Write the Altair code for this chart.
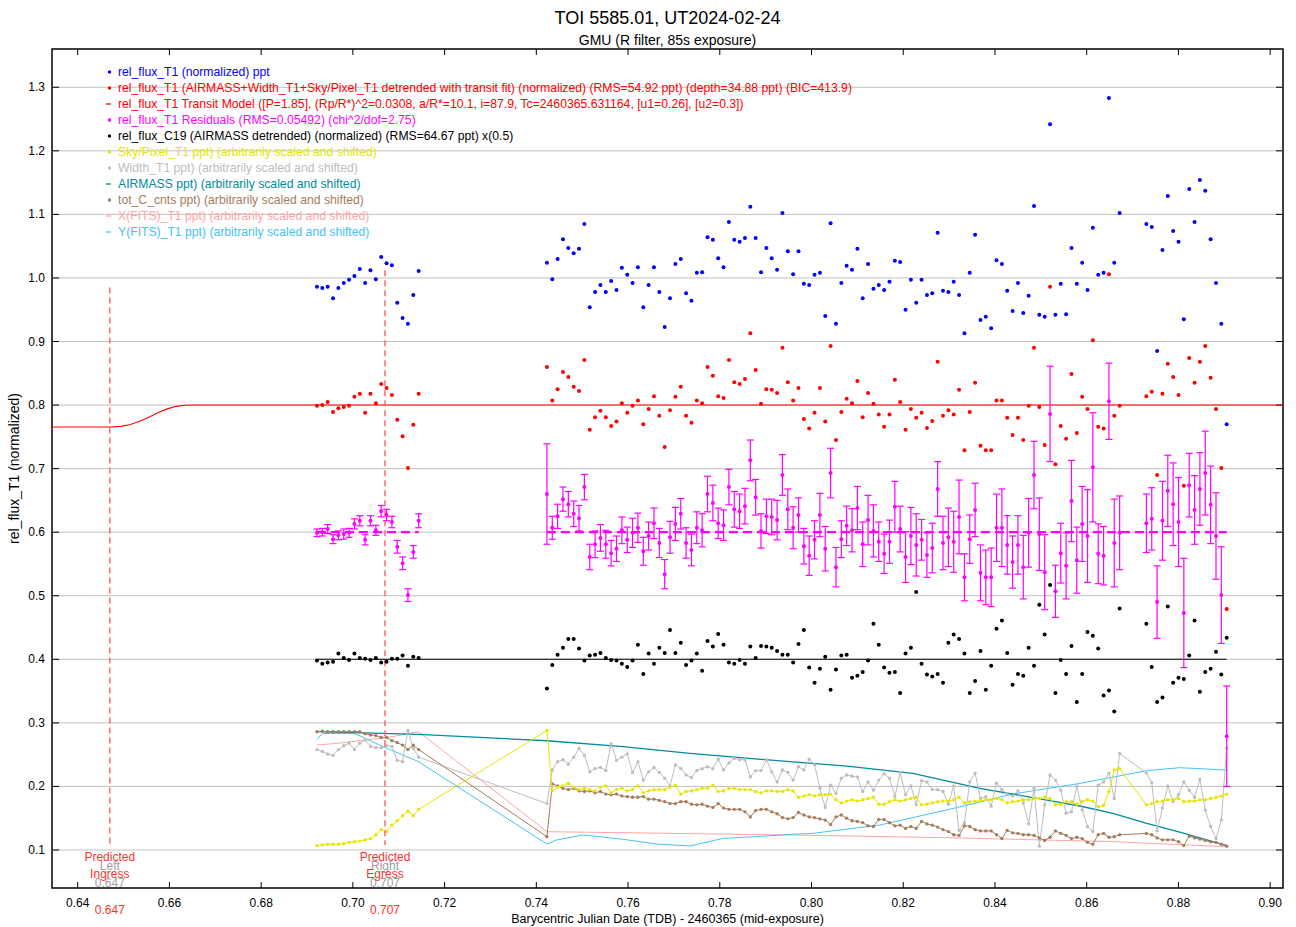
import altair as alt
import pandas as pd

# ---------------------------------------------------------------------------
# Observation times, BJD_TDB - 2460365 (short first block, then main block)
# ---------------------------------------------------------------------------
T1 = [0.69217, 0.69334, 0.69450, 0.69567, 0.69684, 0.69801, 0.69917, 0.70034, 0.70151, 0.70267,
      0.70384, 0.70501, 0.70617, 0.70734, 0.70851, 0.70968, 0.71084, 0.71201, 0.71318, 0.71434]
T2 = [0.74231, 0.74348, 0.74464, 0.74581, 0.74698, 0.74815, 0.74931, 0.75048, 0.75165, 0.75281,
      0.75398, 0.75515, 0.75631, 0.75748, 0.75865, 0.75982, 0.76098, 0.76215, 0.76332, 0.76448,
      0.76565, 0.76682, 0.76798, 0.76915, 0.77032, 0.77149, 0.77265, 0.77382, 0.77499, 0.77615,
      0.77732, 0.77849, 0.77965, 0.78082, 0.78199, 0.78316, 0.78432, 0.78549, 0.78666, 0.78782,
      0.78899, 0.79016, 0.79132, 0.79249, 0.79366, 0.79483, 0.79599, 0.79716, 0.79833, 0.79949,
      0.80066, 0.80183, 0.80299, 0.80416, 0.80533, 0.80650, 0.80766, 0.80883, 0.81000, 0.81116,
      0.81233, 0.81350, 0.81466, 0.81583, 0.81700, 0.81817, 0.81933, 0.82050, 0.82167, 0.82283,
      0.82400, 0.82517, 0.82633, 0.82750, 0.82867, 0.82984, 0.83100, 0.83217, 0.83334, 0.83450,
      0.83567, 0.83684, 0.83800, 0.83917, 0.84034, 0.84151, 0.84267, 0.84384, 0.84501, 0.84617,
      0.84734, 0.84851, 0.84967, 0.85084, 0.85201, 0.85318, 0.85434, 0.85551, 0.85668, 0.85784,
      0.85901, 0.86018, 0.86134, 0.86251, 0.86368, 0.86485, 0.86601, 0.86718,
      0.87301, 0.87418, 0.87535, 0.87652, 0.87768, 0.87885, 0.88002, 0.88118, 0.88235, 0.88352,
      0.88468, 0.88585, 0.88702, 0.88819, 0.88935, 0.89052]

# rel_flux_T1 (normalized), plotted around 1.0
RAW_1 = [0.986, 0.984, 0.986, 0.968, 0.984, 0.992, 0.997, 1.003, 1.014, 0.992,
         1.012, 0.998, 1.033, 1.023, 1.020, 0.961, 0.937, 0.928, 0.973, 1.011]
RAW_2 = [1.024, 0.998, 1.030, 1.061, 1.047, 1.039, 1.046, 1.085, 0.954, 0.978,
         0.989, 0.978, 0.995, 0.981, 1.016, 1.005, 0.992, 1.017, 0.954, 0.989,
         1.017, 0.978, 0.923, 0.968, 1.022, 1.030, 0.976, 0.964, 1.008, 1.009,
         1.064, 1.060, 1.031, 1.017, 1.088, 1.060, 1.057, 1.063, 1.112, 1.063,
         1.009, 1.047, 1.031, 1.013, 1.102, 1.042, 1.006, 1.042, 0.991, 0.989,
         1.005, 1.008, 0.940, 1.086, 0.928, 0.992, 1.019, 1.013, 1.046, 0.968,
         1.022, 0.983, 0.989, 0.981, 0.994, 1.027, 1.025, 0.950, 0.997, 0.961,
         0.997, 0.973, 0.976, 1.071, 0.980, 0.978, 0.994, 0.973, 0.913, 1.008,
         1.068, 0.934, 0.939, 0.921, 1.028, 1.022, 0.980, 0.948, 0.992, 0.945,
         0.972, 1.113, 0.942, 0.939, 1.242, 0.942, 0.991, 0.943, 1.047, 0.991,
         1.024, 0.981, 1.079, 1.005, 1.008, 1.283, 1.024, 1.102,
         1.085, 1.080, 0.885, 1.044, 1.129, 1.074, 1.057, 0.935, 1.140, 1.088,
         1.154, 1.137, 1.061, 0.992, 0.928, 0.770]

# rel_flux_T1 detrended (normalized), plotted around 0.8
DET_1 = [0.799, 0.800, 0.805, 0.789, 0.795, 0.797, 0.799, 0.813, 0.818, 0.788,
         0.818, 0.803, 0.833, 0.827, 0.816, 0.777, 0.751, 0.701, 0.769, 0.818]
DET_2 = [0.860, 0.807, 0.825, 0.852, 0.844, 0.829, 0.822, 0.871, 0.761, 0.781,
         0.791, 0.781, 0.767, 0.774, 0.803, 0.788, 0.799, 0.807, 0.770, 0.794,
         0.814, 0.783, 0.734, 0.792, 0.813, 0.829, 0.783, 0.772, 0.807, 0.803,
         0.860, 0.846, 0.814, 0.811, 0.871, 0.836, 0.833, 0.841, 0.913, 0.855,
         0.802, 0.825, 0.824, 0.819, 0.890, 0.836, 0.807, 0.827, 0.778, 0.763,
         0.788, 0.827, 0.774, 0.893, 0.745, 0.789, 0.810, 0.803, 0.838, 0.781,
         0.819, 0.802, 0.785, 0.766, 0.785, 0.840, 0.805, 0.761, 0.794, 0.780,
         0.788, 0.764, 0.775, 0.868, 0.783, 0.792, 0.785, 0.824, 0.729, 0.789,
         0.835, 0.736, 0.729, 0.729, 0.807, 0.807, 0.780, 0.753, 0.780, 0.745,
         0.799, 0.890, 0.797, 0.737, 0.986, 0.707, 0.767, 0.747, 0.849, 0.756,
         0.813, 0.794, 0.902, 0.766, 0.763, 1.006, 0.783, 0.799,
         0.814, 0.821, 0.690, 0.818, 0.865, 0.844, 0.816, 0.673, 0.874, 0.835,
         0.868, 0.893, 0.843, 0.794, 0.701, 0.479]

# uncertainty of each detrended point (drawn on the residuals)
ERR_1 = [0.006, 0.006, 0.007, 0.007, 0.007, 0.008, 0.007, 0.008, 0.008, 0.008,
         0.008, 0.008, 0.009, 0.009, 0.009, 0.010, 0.010, 0.010, 0.010, 0.011]
ERR_2 = [0.079, 0.018, 0.019, 0.019, 0.020, 0.020, 0.020, 0.020, 0.020, 0.021,
         0.021, 0.022, 0.020, 0.020, 0.021, 0.020, 0.023, 0.023, 0.022, 0.022,
         0.024, 0.023, 0.023, 0.025, 0.026, 0.024, 0.024, 0.025, 0.025, 0.026,
         0.028, 0.028, 0.024, 0.024, 0.028, 0.028, 0.027, 0.028, 0.032, 0.028,
         0.027, 0.027, 0.028, 0.031, 0.032, 0.032, 0.033, 0.027, 0.028, 0.031,
         0.030, 0.034, 0.035, 0.039, 0.031, 0.029, 0.031, 0.034, 0.034, 0.035,
         0.039, 0.041, 0.031, 0.031, 0.034, 0.040, 0.036, 0.040, 0.045, 0.049,
         0.032, 0.035, 0.039, 0.043, 0.042, 0.046, 0.048, 0.058, 0.037, 0.038,
         0.042, 0.044, 0.043, 0.046, 0.053, 0.061, 0.046, 0.041, 0.046, 0.050,
         0.054, 0.053, 0.057, 0.059, 0.075, 0.041, 0.047, 0.052, 0.064, 0.052,
         0.059, 0.073, 0.086, 0.047, 0.046, 0.060, 0.069, 0.058,
         0.046, 0.049, 0.057, 0.062, 0.056, 0.065, 0.070, 0.086, 0.050, 0.054,
         0.057, 0.066, 0.061, 0.068, 0.076, 0.079]

# rel_flux_C19 (AIRMASS detrended), plotted around 0.4
COMP_1 = [0.398, 0.393, 0.395, 0.396, 0.409, 0.402, 0.399, 0.409, 0.402, 0.401,
          0.399, 0.402, 0.395, 0.396, 0.401, 0.401, 0.406, 0.390, 0.404, 0.402]
COMP_2 = [0.354, 0.391, 0.407, 0.418, 0.432, 0.432, 0.417, 0.398, 0.406, 0.407,
          0.410, 0.402, 0.399, 0.398, 0.393, 0.388, 0.398, 0.423, 0.377, 0.409,
          0.393, 0.418, 0.410, 0.446, 0.410, 0.426, 0.391, 0.398, 0.409, 0.382,
          0.429, 0.420, 0.440, 0.423, 0.395, 0.393, 0.399, 0.393, 0.420, 0.402,
          0.421, 0.420, 0.418, 0.413, 0.407, 0.407, 0.395, 0.424, 0.446, 0.387,
          0.363, 0.385, 0.404, 0.352, 0.384, 0.406, 0.407, 0.371, 0.374, 0.380,
          0.398, 0.456, 0.423, 0.387, 0.379, 0.380, 0.347, 0.409, 0.418, 0.506,
          0.393, 0.376, 0.373, 0.377, 0.363, 0.426, 0.439, 0.432, 0.409, 0.347,
          0.366, 0.413, 0.352, 0.390, 0.448, 0.461, 0.410, 0.360, 0.377, 0.374,
          0.418, 0.390, 0.486, 0.439, 0.517, 0.347, 0.399, 0.377, 0.421, 0.333,
          0.377, 0.443, 0.437, 0.417, 0.343, 0.351, 0.318, 0.480,
          0.456, 0.388, 0.333, 0.340, 0.483, 0.363, 0.371, 0.369, 0.406, 0.461,
          0.349, 0.380, 0.385, 0.412, 0.376, 0.434]

# Sky/Pixel_T1 (arbitrarily scaled and shifted)
SKY_1 = [0.107, 0.108, 0.109, 0.109, 0.109, 0.110, 0.112, 0.113, 0.114, 0.116,
         0.118, 0.124, 0.132, 0.129, 0.139, 0.146, 0.154, 0.161, 0.154, 0.164]
SKY_2 = [0.288, 0.193, 0.199, 0.201, 0.205, 0.199, 0.195, 0.197, 0.195, 0.193,
         0.199, 0.201, 0.190, 0.195, 0.197, 0.193, 0.195, 0.201, 0.190, 0.193,
         0.195, 0.195, 0.195, 0.199, 0.202, 0.188, 0.192, 0.193, 0.195, 0.197,
         0.197, 0.202, 0.192, 0.193, 0.197, 0.197, 0.195, 0.195, 0.195, 0.192,
         0.190, 0.193, 0.193, 0.192, 0.192, 0.195, 0.193, 0.183, 0.185, 0.187,
         0.185, 0.187, 0.187, 0.188, 0.179, 0.174, 0.177, 0.179, 0.177, 0.179,
         0.181, 0.183, 0.172, 0.172, 0.176, 0.179, 0.177, 0.179, 0.181, 0.183,
         0.171, 0.172, 0.174, 0.176, 0.177, 0.177, 0.179, 0.183, 0.174, 0.176,
         0.177, 0.177, 0.179, 0.179, 0.181, 0.179, 0.174, 0.176, 0.177, 0.179,
         0.179, 0.181, 0.181, 0.183, 0.181, 0.171, 0.172, 0.176, 0.176, 0.172,
         0.176, 0.179, 0.177, 0.168, 0.170, 0.192, 0.226, 0.228,
         0.171, 0.173, 0.176, 0.177, 0.179, 0.179, 0.181, 0.176, 0.177, 0.177,
         0.179, 0.179, 0.181, 0.183, 0.185, 0.188]

# Width_T1 (arbitrarily scaled and shifted)
WID_1 = [0.258, 0.255, 0.251, 0.249, 0.258, 0.264, 0.268, 0.258, 0.268, 0.273,
         0.263, 0.261, 0.261, 0.264, 0.263, 0.241, 0.239, 0.288, 0.260, 0.246]
WID_2 = [0.173, 0.226, 0.239, 0.242, 0.235, 0.246, 0.260, 0.249, 0.223, 0.228,
         0.230, 0.225, 0.267, 0.241, 0.246, 0.251, 0.222, 0.239, 0.210, 0.223,
         0.230, 0.222, 0.213, 0.201, 0.234, 0.228, 0.218, 0.214, 0.225, 0.228,
         0.231, 0.228, 0.243, 0.226, 0.237, 0.244, 0.242, 0.242, 0.215, 0.225,
         0.225, 0.242, 0.223, 0.207, 0.226, 0.222, 0.210, 0.231, 0.226, 0.243,
         0.234, 0.197, 0.167, 0.202, 0.189, 0.213, 0.218, 0.216, 0.215, 0.192,
         0.207, 0.194, 0.210, 0.220, 0.213, 0.184, 0.222, 0.187, 0.201, 0.171,
         0.209, 0.207, 0.195, 0.195, 0.192, 0.172, 0.201, 0.131, 0.143, 0.207,
         0.221, 0.181, 0.184, 0.169, 0.205, 0.195, 0.188, 0.185, 0.193, 0.174,
         0.141, 0.197, 0.106, 0.171, 0.218, 0.210, 0.194, 0.158, 0.160, 0.201,
         0.163, 0.137, 0.129, 0.202, 0.207, 0.221, 0.181, 0.252,
         0.221, 0.206, 0.130, 0.166, 0.201, 0.176, 0.187, 0.207, 0.194, 0.183,
         0.211, 0.163, 0.137, 0.118, 0.147, 0.260]

# tot_C_cnts (arbitrarily scaled and shifted)
CNT_1 = [0.286, 0.287, 0.286, 0.286, 0.286, 0.286, 0.286, 0.286, 0.286, 0.283,
         0.281, 0.280, 0.277, 0.277, 0.272, 0.269, 0.265, 0.258, 0.265, 0.258]
CNT_2 = [0.121, 0.204, 0.201, 0.197, 0.195, 0.197, 0.193, 0.192, 0.193, 0.190,
         0.192, 0.188, 0.187, 0.188, 0.185, 0.184, 0.183, 0.183, 0.184, 0.180,
         0.180, 0.178, 0.176, 0.173, 0.173, 0.176, 0.176, 0.172, 0.171, 0.172,
         0.169, 0.167, 0.173, 0.166, 0.164, 0.164, 0.164, 0.160, 0.152, 0.162,
         0.164, 0.164, 0.160, 0.157, 0.151, 0.149, 0.151, 0.159, 0.155, 0.152,
         0.151, 0.149, 0.147, 0.140, 0.152, 0.155, 0.150, 0.146, 0.145, 0.143,
         0.138, 0.137, 0.148, 0.148, 0.143, 0.138, 0.139, 0.134, 0.137, 0.134,
         0.145, 0.141, 0.139, 0.136, 0.132, 0.129, 0.124, 0.123, 0.138, 0.137,
         0.132, 0.130, 0.130, 0.130, 0.124, 0.118, 0.131, 0.127, 0.126, 0.124,
         0.124, 0.123, 0.119, 0.115, 0.120, 0.130, 0.126, 0.123, 0.118, 0.120,
         0.118, 0.112, 0.109, 0.124, 0.126, 0.120, 0.121, 0.124,
         0.126, 0.124, 0.119, 0.116, 0.116, 0.116, 0.113, 0.107, 0.122, 0.119,
         0.117, 0.115, 0.113, 0.112, 0.109, 0.106]

# AIRMASS (arbitrarily scaled and shifted), drawn as a plain line
AIRMASS_T = [0.69217, 0.71434, 0.74231, 0.75888, 0.77349, 0.79529, 0.80771, 0.82210,
             0.83671, 0.85131, 0.85851, 0.86570, 0.87311, 0.88031, 0.89052]
AIRMASS_V = [0.2861, 0.2819, 0.2719, 0.2625, 0.2520, 0.2389, 0.2321, 0.2205,
             0.1970, 0.1786, 0.1692, 0.1577, 0.1420, 0.1280, 0.1068]

# X(FITS)_T1 (arbitrarily scaled and shifted)
XFITS_T = [0.69217, 0.69684, 0.70267, 0.70851, 0.71434, 0.74231, 0.79529, 0.82944,
           0.86570, 0.89052]
XFITS_V = [0.2651, 0.2680, 0.2730, 0.2782, 0.2861, 0.1288, 0.1236, 0.1194,
           0.1131, 0.1052]

# Y(FITS)_T1 (arbitrarily scaled and shifted)
YFITS_T = [0.69217, 0.69334, 0.70034, 0.70662, 0.71434, 0.74231, 0.74437, 0.75023,
           0.75894, 0.76623, 0.77349, 0.78075, 0.78803, 0.79529, 0.80032, 0.81492,
           0.82944, 0.84390, 0.85851, 0.87311, 0.88030, 0.89052]
YFITS_V = [0.2740, 0.2834, 0.2834, 0.2625, 0.2389, 0.1094, 0.1157, 0.1236,
           0.1168, 0.1094, 0.1063, 0.1183, 0.1210, 0.1246, 0.1262, 0.1393,
           0.1629, 0.1881, 0.2048, 0.2247, 0.2295, 0.2258]

# Transit model, shifted to the detrended level
MODEL_T = [0.6344, 0.6470, 0.6495, 0.6515, 0.6535, 0.6555, 0.6575, 0.6595, 0.6615,
           0.6635, 0.6655, 0.9028]
MODEL_V = [0.7655, 0.7655, 0.7665, 0.7695, 0.7745, 0.7810, 0.7880, 0.7940, 0.7980,
           0.7998, 0.8000, 0.8000]

DETR_LEVEL = 0.8     # out-of-transit model level of the detrended curve
RESID_LEVEL = 0.6    # residuals are shown around this level
COMP_LEVEL = 0.4     # comparison-star baseline

INGRESS = 0.647
EGRESS = 0.707
INGRESS_TOP = 0.985
EGRESS_TOP = 1.012
MARKER_BOTTOM = 0.108

X_TICKS = [0.64, 0.66, 0.68, 0.70, 0.72, 0.74, 0.76, 0.78, 0.80, 0.82, 0.84, 0.86, 0.88, 0.90]
Y_TICKS = [0.1, 0.2, 0.3, 0.4, 0.5, 0.6, 0.7, 0.8, 0.9, 1.0, 1.1, 1.2, 1.3]
X_TITLE = "Barycentric Julian Date (TDB) - 2460365 (mid-exposure)"
Y_TITLE = "rel_flux_T1 (normalized)"

LEGEND_TEXT = [
    "rel_flux_T1 (normalized) ppt",
    "rel_flux_T1 (AIRMASS+Width_T1+Sky/Pixel_T1 detrended with transit fit) (normalized) "
    "(RMS=54.92 ppt) (depth=34.88 ppt) (BIC=413.9)",
    "rel_flux_T1 Transit Model ([P=1.85], (Rp/R*)^2=0.0308, a/R*=10.1, i=87.9, "
    "Tc=2460365.631164, [u1=0.26], [u2=0.3])",
    "rel_flux_T1 Residuals (RMS=0.05492) (chi^2/dof=2.75)",
    "rel_flux_C19 (AIRMASS detrended) (normalized) (RMS=64.67 ppt) x(0.5)",
    "Sky/Pixel_T1 ppt) (arbitrarily scaled and shifted)",
    "Width_T1 ppt) (arbitrarily scaled and shifted)",
    "AIRMASS ppt) (arbitrarily scaled and shifted)",
    "tot_C_cnts ppt) (arbitrarily scaled and shifted)",
    "X(FITS)_T1 ppt) (arbitrarily scaled and shifted)",
    "Y(FITS)_T1 ppt) (arbitrarily scaled and shifted)",
]
LEGEND_KIND = ["dot", "dot", "dash", "dot", "dot", "dot", "dot", "dash", "dot", "dash", "dash"]

# ---------------------------------------------------------------------------
# Styling
# ---------------------------------------------------------------------------
FONT = "Liberation Sans"
W, H = 1231, 839
X_MIN, X_MAX = 0.6344, 0.9028
Y_MIN, Y_MAX = 0.0402, 1.3602
LEGEND_TOP_PX, LEGEND_STEP_PX = 23, 16

BLUE, RED, MAGENTA, BLACK = "#0000ff", "#ff0000", "#ff00ff", "#000000"
YELLOW, GRAY, TEAL, BROWN = "#e6e600", "#bdbdbd", "#008c9e", "#a57c5b"
PINK, SKYBLUE, MARKER_RED = "#ffa5a5", "#45c3f7", "#ff6464"
GRID = "#c0c0c0"
LEGEND_COLOR = [BLUE, RED, RED, MAGENTA, BLACK, YELLOW, GRAY, TEAL, BROWN, PINK, SKYBLUE]

xs = alt.Scale(domain=[X_MIN, X_MAX], nice=False, zero=False)
ys = alt.Scale(domain=[Y_MIN, Y_MAX], nice=False, zero=False)


def xq(field):
    return alt.X(field, type="quantitative", scale=xs, axis=None)


def yq(field):
    return alt.Y(field, type="quantitative", scale=ys, axis=None)


# ---------------------------------------------------------------------------
# Tables
# ---------------------------------------------------------------------------
obs = pd.DataFrame({
    "t": T1 + T2,
    "raw": RAW_1 + RAW_2,
    "det": DET_1 + DET_2,
    "err": ERR_1 + ERR_2,
    "comp": COMP_1 + COMP_2,
    "sky": SKY_1 + SKY_2,
    "width": WID_1 + WID_2,
    "cnts": CNT_1 + CNT_2,
})
obs["resid"] = obs["det"] - DETR_LEVEL + RESID_LEVEL
obs["lo"] = obs["resid"] - obs["err"]
obs["hi"] = obs["resid"] + obs["err"]
cap_half = 3.5 * (X_MAX - X_MIN) / W
obs["cap_l"] = obs["t"] - cap_half
obs["cap_r"] = obs["t"] + cap_half

airmass = pd.DataFrame({"t": AIRMASS_T, "v": AIRMASS_V})
xfits = pd.DataFrame({"t": XFITS_T, "v": XFITS_V})
yfits = pd.DataFrame({"t": YFITS_T, "v": YFITS_V})
model = pd.DataFrame({"t": MODEL_T, "v": MODEL_V})
comp_base = pd.DataFrame({"t": [T1[0], T2[-1]], "v": [COMP_LEVEL, COMP_LEVEL]})
resid_base = pd.DataFrame({
    "t": [T1[0], T1[-1], T2[0], T2[-1]],
    "v": [RESID_LEVEL] * 4,
    "seg": ["a", "a", "b", "b"],
})
markers = pd.DataFrame({
    "t": [INGRESS, EGRESS],
    "top": [INGRESS_TOP, EGRESS_TOP],
    "bot": [MARKER_BOTTOM, MARKER_BOTTOM],
    "side": ["Left", "Right"],
    "kind": ["Ingress", "Egress"],
    "val": [f"{INGRESS:.3f}", f"{EGRESS:.3f}"],
})
xt = pd.DataFrame({"t": X_TICKS, "lab": [f"{v:.2f}" for v in X_TICKS]})
yt = pd.DataFrame({"v": Y_TICKS, "lab": [f"{v:.1f}" for v in Y_TICKS]})

# legend rows sit at fixed pixel offsets from the top of the plot area
leg = pd.DataFrame({"label": LEGEND_TEXT, "kind": LEGEND_KIND})
leg["y"] = [Y_MAX - (LEGEND_TOP_PX + LEGEND_STEP_PX * i) * (Y_MAX - Y_MIN) / H
            for i in range(len(LEGEND_TEXT))]

base = alt.Chart(obs)


def track(field, color, width=1.0):
    return base.mark_line(color=color, strokeWidth=width).encode(x=xq("t"), y=yq(field))


def dots(field, color, size):
    return base.mark_circle(color=color, size=size, opacity=1).encode(x=xq("t"), y=yq(field))


def plain(df, color, width=1.0):
    return alt.Chart(df).mark_line(color=color, strokeWidth=width).encode(x=xq("t"), y=yq("v"))


# ---------------------------------------------------------------------------
# Frame: grid, inward ticks, tick labels and axis titles
# ---------------------------------------------------------------------------
ycht = alt.Chart(yt)
xcht = alt.Chart(xt)
frame = [
    ycht.mark_rule(color=GRID, strokeWidth=1).encode(y=yq("v"), x=alt.value(0), x2=alt.value(W)),
    ycht.mark_rule(color="black", strokeWidth=1).encode(y=yq("v"), x=alt.value(0), x2=alt.value(7)),
    ycht.mark_rule(color="black", strokeWidth=1).encode(y=yq("v"), x=alt.value(W), x2=alt.value(W - 7)),
    xcht.mark_rule(color="black", strokeWidth=1).encode(x=xq("t"), y=alt.value(H), y2=alt.value(H - 6)),
    xcht.mark_rule(color="black", strokeWidth=1).encode(x=xq("t"), y=alt.value(0), y2=alt.value(6)),
    ycht.mark_text(font=FONT, fontSize=12, color="black", align="right", baseline="middle").encode(
        y=yq("v"), x=alt.value(-7), text="lab:N"),
    xcht.mark_text(font=FONT, fontSize=12, color="black", align="center", baseline="middle").encode(
        x=xq("t"), y=alt.value(H + 15), text="lab:N"),
    alt.Chart(pd.DataFrame({"s": [Y_TITLE]})).mark_text(
        font=FONT, fontSize=14, color="black", angle=270, align="center", baseline="middle"
    ).encode(x=alt.value(-37), y=alt.value(H / 2), text="s:N"),
    alt.Chart(pd.DataFrame({"s": [X_TITLE]})).mark_text(
        font=FONT, fontSize=12.5, color="black", align="center", baseline="middle"
    ).encode(x=alt.value(W / 2), y=alt.value(H + 31), text="s:N"),
]

# Auxiliary tracks along the bottom
aux = [
    plain(xfits, PINK),
    plain(yfits, SKYBLUE),
    plain(airmass, TEAL, 1.3),
    track("width", GRAY), dots("width", GRAY, 11),
    track("cnts", BROWN), dots("cnts", BROWN, 11),
    track("sky", YELLOW), dots("sky", YELLOW, 11),
]

# Model and baselines
lines = [
    plain(model, RED, 1.1),
    plain(comp_base, BLACK, 1.1),
]

marker_lines = alt.Chart(markers).mark_rule(
    color=MARKER_RED, strokeWidth=1.6, strokeDash=[6, 4], opacity=0.9
).encode(x=xq("t"), y=yq("top"), y2=alt.Y2("bot"))

err_bars = [
    base.mark_rule(color=MAGENTA, strokeWidth=1.2).encode(x=xq("t"), y=yq("lo"), y2=alt.Y2("hi")),
    base.mark_rule(color=MAGENTA, strokeWidth=1.2).encode(x=xq("cap_l"), x2=alt.X2("cap_r"), y=yq("lo")),
    base.mark_rule(color=MAGENTA, strokeWidth=1.2).encode(x=xq("cap_l"), x2=alt.X2("cap_r"), y=yq("hi")),
]

resid_line = alt.Chart(resid_base).mark_line(
    color=MAGENTA, strokeWidth=2.2, strokeDash=[9, 5]
).encode(x=xq("t"), y=yq("v"), detail="seg:N")

points = [
    dots("comp", BLACK, 16),
    dots("resid", MAGENTA, 16),
    dots("det", RED, 16),
    dots("raw", BLUE, 16),
]

mk = alt.Chart(markers)
marker_text = [
    mk.mark_text(font=FONT, fontSize=12, color="#a0a0a0", baseline="middle").encode(
        x=xq("t"), y=alt.value(816.5), text="side:N"),
    mk.mark_text(font=FONT, fontSize=12, color="#a0a0a0", baseline="middle").encode(
        x=xq("t"), y=alt.value(834), text="val:N"),
    mk.mark_text(font=FONT, fontSize=12, color="#ff3030", baseline="middle", text="Predicted").encode(
        x=xq("t"), y=alt.value(808)),
    mk.mark_text(font=FONT, fontSize=12, color="#ff3030", baseline="middle").encode(
        x=xq("t"), y=alt.value(825), text="kind:N"),
    mk.mark_text(font=FONT, fontSize=12, color="#ff3030", baseline="middle").encode(
        x=xq("t"), y=alt.value(860.5), text="val:N"),
]

# Legend block in the upper-left corner
lc = alt.Color("label:N", scale=alt.Scale(domain=LEGEND_TEXT, range=LEGEND_COLOR), legend=None)
lg = alt.Chart(leg)
legend = [
    lg.mark_text(align="left", baseline="middle", font=FONT, fontSize=12.2).encode(
        x=alt.value(66), y=yq("y"), text="label:N", color=lc),
    lg.transform_filter("datum.kind == 'dot'").mark_circle(size=12, opacity=1).encode(
        x=alt.value(57.5), y=yq("y"), color=lc),
    lg.transform_filter("datum.kind == 'dash'").mark_rule(strokeWidth=1.3).encode(
        x=alt.value(54), x2=alt.value(59), y=yq("y"), color=lc),
]

chart = alt.layer(
    *frame, *aux, *lines, marker_lines, *err_bars, resid_line, *points, *marker_text, *legend,
).properties(
    width=W,
    height=H,
    padding={"left": 52, "top": 49, "right": 13, "bottom": 39},
    autosize=alt.AutoSizeParams(type="none"),
    title=alt.TitleParams(
        text="TOI 5585.01, UT2024-02-24",
        subtitle="GMU (R filter, 85s exposure)",
        font=FONT, fontSize=18, fontWeight="normal", color="black",
        subtitleFont=FONT, subtitleFontSize=14, subtitleColor="black",
        anchor="middle", offset=1, subtitlePadding=6,
    ),
).configure_view(stroke="black", strokeWidth=1.5)

chart.save("out.html", embed_options={"renderer": "svg", "actions": False})
